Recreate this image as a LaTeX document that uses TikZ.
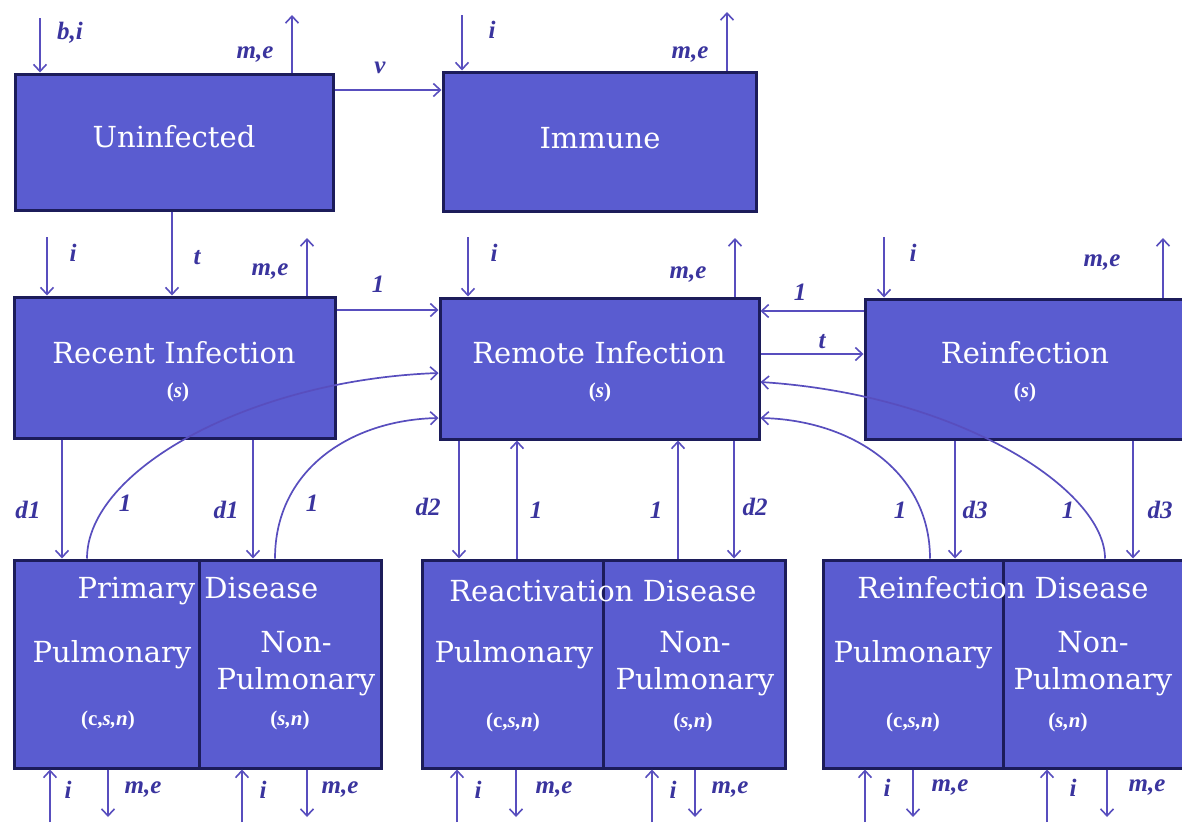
\documentclass[tikz,border=0pt]{standalone}
\usepackage{fontspec}
\setmainfont{DejaVu Serif}
\newfontfamily\labfont{Liberation Serif}
\usetikzlibrary{arrows.meta}
\definecolor{boxfill}{RGB}{90,92,208}
\definecolor{boxline}{RGB}{28,28,90}
\definecolor{arrcol}{RGB}{88,78,190}
\definecolor{labcol}{RGB}{58,52,158}
\tikzset{
 box/.style={draw=boxline, line width=3pt, fill=boxfill, inner sep=0pt, rectangle},
 arr/.style={draw=arrcol, line width=1.7pt, -{Straight Barb[length=7pt,width=13pt,line width=1.6pt]}},
 lab/.style={text=labcol, font=\labfont\bfseries\itshape\fontsize{25}{25}\selectfont, inner sep=0pt},
 big/.style={text=white, font=\fontsize{29}{37}\selectfont, inner sep=0pt, align=center},
 small/.style={text=white, font=\labfont\bfseries\fontsize{21}{21}\selectfont, inner sep=0pt},
}
\newcommand{\sv}{(\textit{s})}
\newcommand{\csn}{(c,\textit{s,n})}
\newcommand{\sn}{(\textit{s,n})}
\begin{document}
\begin{tikzpicture}[x=1pt,y=-1pt]
\useasboundingbox[fill=white] (0,0) rectangle (1182,822);
% boxes
\node[box, minimum width=318pt, minimum height=136pt] (unin) at (174,142) {};
\node[box, minimum width=313pt, minimum height=139pt] (imm) at (599.5,141.5) {};
\node[box, minimum width=321pt, minimum height=141pt] (rec) at (174.5,367.5) {};
\node[box, minimum width=319pt, minimum height=141pt] (rem) at (599.5,368.5) {};
\node[box, minimum width=319pt, minimum height=140pt] (rei) at (1024.5,369) {};
\node[box, minimum width=185pt, minimum height=208pt] (pl) at (106.5,664) {};
\node[box, minimum width=182pt, minimum height=208pt] (pr) at (290,664) {};
\node[box, minimum width=181pt, minimum height=208pt] (al) at (512.5,664) {};
\node[box, minimum width=182pt, minimum height=208pt] (ar) at (694,664) {};
\node[box, minimum width=180pt, minimum height=208pt] (rl) at (913,664) {};
\node[box, minimum width=181pt, minimum height=208pt] (rr) at (1093.5,664) {};
% box texts
\node[big] (tunin) at (174,137) {Uninfected};
\node[big] (timm) at (600,138) {Immune};
\node[big] (trec) at (174,353) {Recent Infection};
\node[small] (srec) at (178,392) {\sv};
\node[big] (trem) at (599,353) {Remote Infection};
\node[small] (srem) at (600,392) {\sv};
\node[big] (trei) at (1025,353) {Reinfection};
\node[small] (srei) at (1025,392) {\sv};
\node[big] (tprim) at (198,591) {Primary Disease};
\node[big] (tpl) at (112,655) {Pulmonary};
\node[big] (tpr) at (296,664) {Non-\\Pulmonary};
\node[small] (cpl) at (108,720) {\csn};
\node[small] (cpr) at (290,720) {\sn};
\node[big] (treac) at (603,591) {Reactivation Disease};
\node[big] (tal) at (514,655) {Pulmonary};
\node[big] (tar) at (695,664) {Non-\\Pulmonary};
\node[small] (cal) at (513,722) {\csn};
\node[small] (car) at (693,722) {\sn};
\node[big] (trd) at (1003,588) {Reinfection Disease};
\node[big] (trl) at (913,655) {Pulmonary};
\node[big] (trr) at (1093,664) {Non-\\Pulmonary};
\node[small] (crl) at (913,722) {\csn};
\node[small] (crr) at (1068,722) {\sn};
% free ends
\coordinate (e1) at (40,18);
\coordinate (e2) at (292,15);
\coordinate (e3) at (462,15);
\coordinate (e4) at (727,12);
\coordinate (e5) at (47,237);
\coordinate (e6) at (307,238);
\coordinate (e7) at (468,237);
\coordinate (e8) at (735,238);
\coordinate (e9) at (884,237);
\coordinate (e10) at (1163,238);
\coordinate (b1) at (50,822);
\coordinate (b2) at (108,817);
\coordinate (b3) at (242,822);
\coordinate (b4) at (307,817);
\coordinate (b5) at (457,822);
\coordinate (b6) at (516,817);
\coordinate (b7) at (652,822);
\coordinate (b8) at (695,817);
\coordinate (b9) at (865,822);
\coordinate (b10) at (913,817);
\coordinate (b11) at (1047,822);
\coordinate (b12) at (1107,817);
% external flows
\draw[arr] (e1) -- (e1 |- unin.north);
\draw[arr] (e2 |- unin.north) -- (e2);
\draw[arr] (e3) -- (e3 |- imm.north);
\draw[arr] (e4 |- imm.north) -- (e4);
\draw[arr] (e5) -- (e5 |- rec.north);
\draw[arr] (e6 |- rec.north) -- (e6);
\draw[arr] (e7) -- (e7 |- rem.north);
\draw[arr] (e8 |- rem.north) -- (e8);
\draw[arr] (e9) -- (e9 |- rei.north);
\draw[arr] (e10 |- rei.north) -- (e10);
\draw[arr] (b1) -- (b1 |- pl.south);
\draw[arr] (b2 |- pl.south) -- (b2);
\draw[arr] (b3) -- (b3 |- pr.south);
\draw[arr] (b4 |- pr.south) -- (b4);
\draw[arr] (b5) -- (b5 |- al.south);
\draw[arr] (b6 |- al.south) -- (b6);
\draw[arr] (b7) -- (b7 |- ar.south);
\draw[arr] (b8 |- ar.south) -- (b8);
\draw[arr] (b9) -- (b9 |- rl.south);
\draw[arr] (b10 |- rl.south) -- (b10);
\draw[arr] (b11) -- (b11 |- rr.south);
\draw[arr] (b12 |- rr.south) -- (b12);
% internal flows
\draw[arr] (unin.east |- 0,90) -- (imm.west |- 0,90);
\draw[arr] (unin.south -| 172,0) -- (rec.north -| 172,0);
\draw[arr] (rec.east |- 0,310) -- (rem.west |- 0,310);
\draw[arr] (rei.west |- 0,311) -- (rem.east |- 0,311);
\draw[arr] (rem.east |- 0,354) -- (rei.west |- 0,354);
\draw[arr] (rec.south -| 62,0) -- (pl.north -| 62,0);
\draw[arr] (rec.south -| 253,0) -- (pr.north -| 253,0);
\draw[arr] (rem.south -| 459,0) -- (al.north -| 459,0);
\draw[arr] (al.north -| 517,0) -- (rem.south -| 517,0);
\draw[arr] (ar.north -| 678,0) -- (rem.south -| 678,0);
\draw[arr] (rem.south -| 734,0) -- (ar.north -| 734,0);
\draw[arr] (rei.south -| 955,0) -- (rl.north -| 955,0);
\draw[arr] (rei.south -| 1133,0) -- (rr.north -| 1133,0);
\draw[arr] (pl.north -| 87,0) .. controls (87,470) and (250,380) .. (rem.west |- 0,373);
\draw[arr] (pr.north -| 275,0) .. controls (275,470) and (350,420) .. (rem.west |- 0,418);
\draw[arr] (rl.north -| 930,0) .. controls (930,470) and (850,420) .. (rem.east |- 0,418);
\draw[arr] (rr.north -| 1105,0) .. controls (1105,490) and (960,395) .. (rem.east |- 0,382);
% labels
\node[lab] (l1) at (70,33) {b,i};
\node[lab] (l2) at (255,55) {m,e};
\node[lab] (l3) at (380,68) {v};
\node[lab] (l4) at (492,30) {i};
\node[lab] (l5) at (690,55) {m,e};
\node[lab] (l6) at (73,253) {i};
\node[lab] (l7) at (197,258) {t};
\node[lab] (l8) at (270,272) {m,e};
\node[lab] (l9) at (378,284) {1};
\node[lab] (l10) at (494,253) {i};
\node[lab] (l11) at (688,275) {m,e};
\node[lab] (l12) at (800,292) {1};
\node[lab] (l13) at (822,342) {t};
\node[lab] (l14) at (913,253) {i};
\node[lab] (l15) at (1102,263) {m,e};
\node[lab] (l16) at (28,510) {d1};
\node[lab] (l17) at (125,503) {1};
\node[lab] (l18) at (226,510) {d1};
\node[lab] (l19) at (312,503) {1};
\node[lab] (l20) at (428,507) {d2};
\node[lab] (l21) at (536,510) {1};
\node[lab] (l22) at (656,510) {1};
\node[lab] (l23) at (755,507) {d2};
\node[lab] (l24) at (900,510) {1};
\node[lab] (l25) at (975,510) {d3};
\node[lab] (l26) at (1068,510) {1};
\node[lab] (l27) at (1160,510) {d3};
\node[lab] (l28) at (68,790) {i};
\node[lab] (l29) at (143,790) {m,e};
\node[lab] (l30) at (263,790) {i};
\node[lab] (l31) at (340,790) {m,e};
\node[lab] (l32) at (478,790) {i};
\node[lab] (l33) at (554,790) {m,e};
\node[lab] (l34) at (673,790) {i};
\node[lab] (l35) at (730,790) {m,e};
\node[lab] (l36) at (887,788) {i};
\node[lab] (l37) at (950,788) {m,e};
\node[lab] (l38) at (1073,788) {i};
\node[lab] (l39) at (1147,788) {m,e};
\end{tikzpicture}
\end{document}
